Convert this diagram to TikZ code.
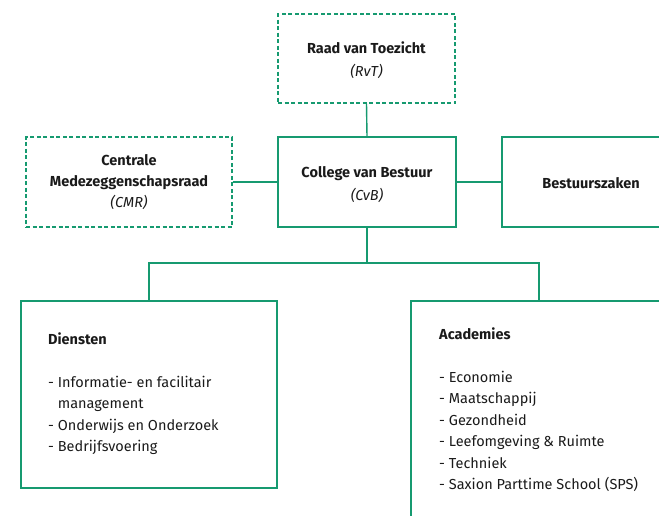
\documentclass[tikz,border=0pt]{standalone}
\usepackage{fontspec}
\setmainfont{Fira Sans}
\definecolor{sxgreen}{RGB}{22,154,112}
\definecolor{sxtext}{RGB}{26,26,26}
\begin{document}
\begin{tikzpicture}[x=1pt,y=-1pt,
  every node/.style={text=sxtext, font=\fontsize{14.5}{23.5}\selectfont},
  orgbox/.style n args={2}{draw=sxgreen, line width=1.4pt, minimum width=#1, minimum height=#2, inner sep=0pt, align=center},
  dashbox/.style={dash pattern=on 4pt off 2.5pt},
  tightlines/.style={font=\fontsize{14.5}{21}\selectfont},
  listtext/.style={anchor=north west, inner sep=0pt, align=left, font=\fontsize{14.5}{21.5}\selectfont},
  link/.style={draw=sxgreen, line width=1.4pt}]
\useasboundingbox (0,0) rectangle (659,515);
\clip (0,0) rectangle (659,515);
\node[orgbox={177pt}{89pt}, dashbox] (rvt) at (366.5,58.5) {\rule{0pt}{15pt}\textbf{Raad van Toezicht}\\\textit{(RvT)}};
\node[orgbox={206pt}{90pt}, dashbox, tightlines] (cmr) at (129,182) {\textbf{Centrale}\\\textbf{Medezeggenschapsraad}\\\textit{(CMR)}};
\node[orgbox={178pt}{90pt}] (cvb) at (367,182) {\rule{0pt}{16.5pt}\textbf{College van Bestuur}\\\textit{(CvB)}};
\node[orgbox={178pt}{90pt}] (bz) at (591,182) {\rule{0pt}{12.5pt}\textbf{Bestuurszaken}};
\node[orgbox={256pt}{187pt}] (dien) at (149,394.5) {};
\node[orgbox={256pt}{238pt}] (acad) at (539,420) {};
\node[listtext] (dientxt) at (48,332.5) {\textbf{Diensten}\\[21.5pt]
- Informatie- en facilitair\\
\hphantom{- }management\\
- Onderwijs en Onderzoek\\
- Bedrijfsvoering};
\node[listtext] (acadtxt) at (439,327.5) {\textbf{Academies}\\[21.5pt]
- Economie\\
- Maatschappij\\
- Gezondheid\\
- Leefomgeving \& Ruimte\\
- Techniek\\
- Saxion Parttime School (SPS)};
\coordinate (junction) at (367,263);
\draw[link] (rvt.south) -- (cvb.north);
\draw[link] (cmr.east) -- (cvb.west);
\draw[link] (cvb.east) -- (bz.west);
\draw[link] (cvb.south) -- (junction);
\draw[link] (dien.north) |- (junction) -| (acad.north);
\end{tikzpicture}
\end{document}
